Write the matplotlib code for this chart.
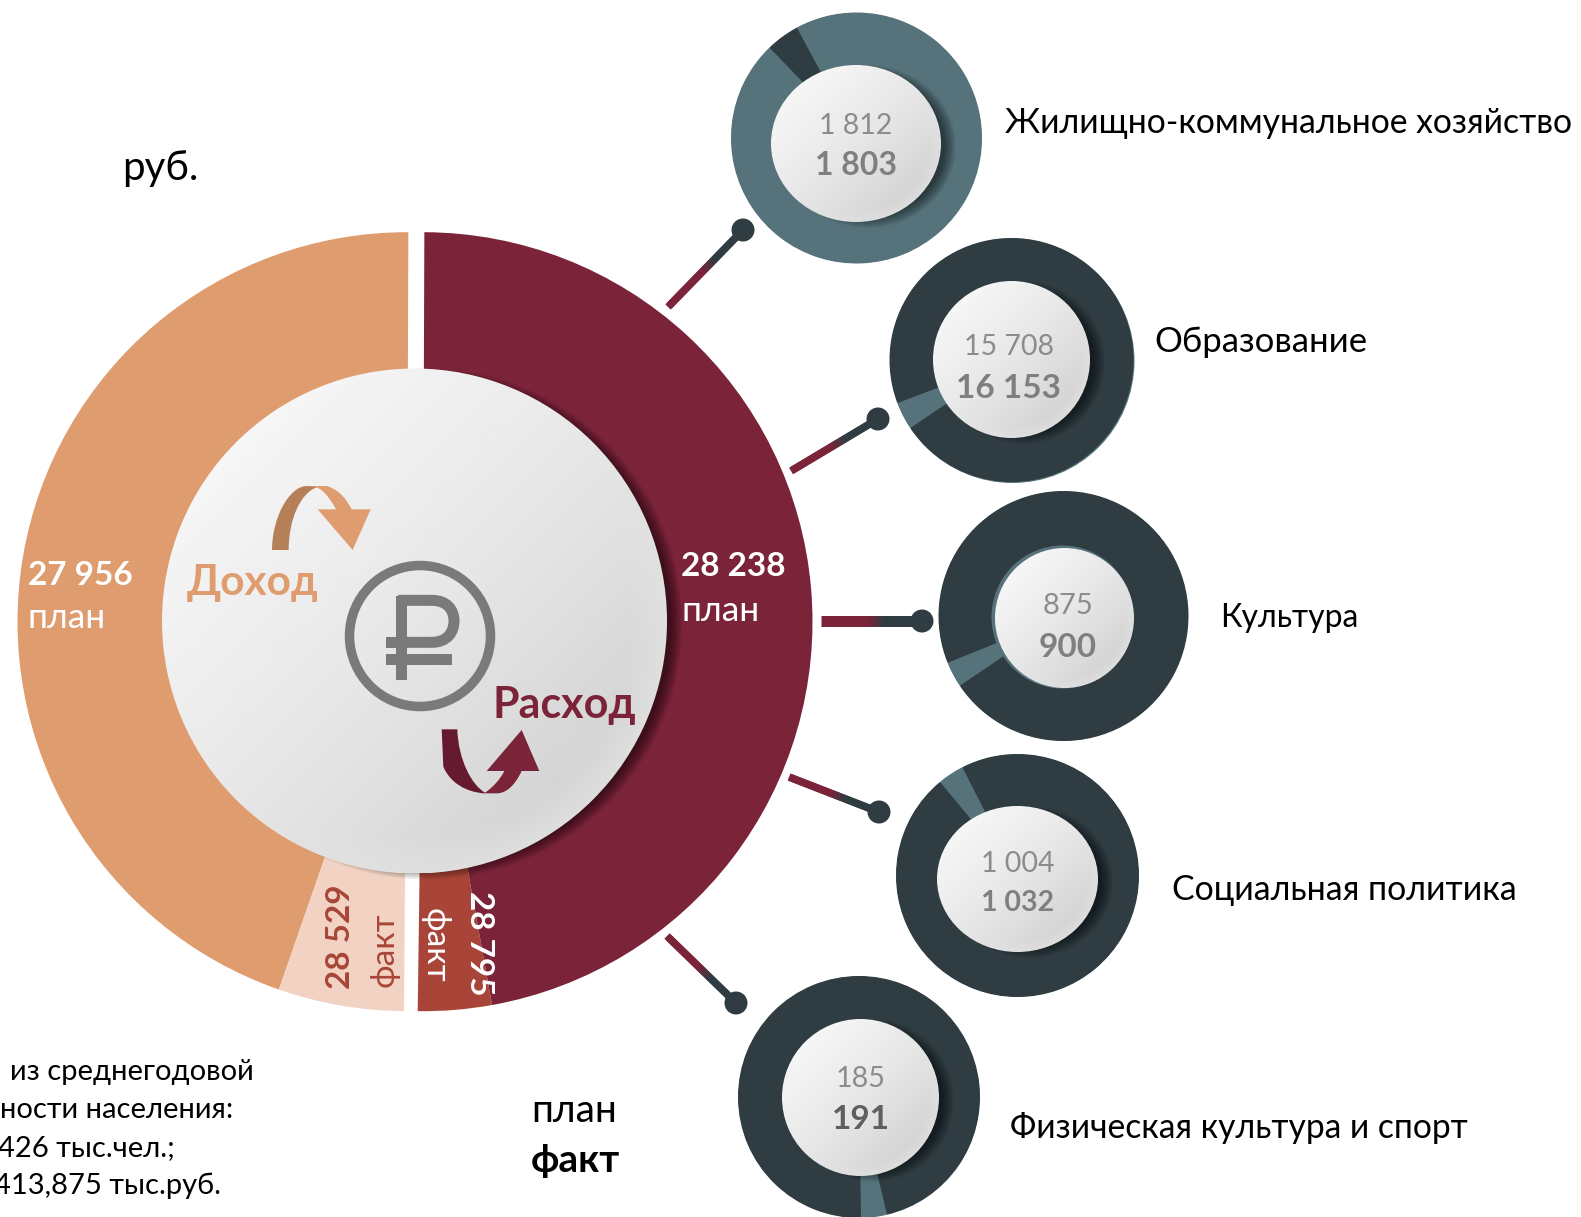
import matplotlib
matplotlib.use("Agg")
import matplotlib.pyplot as plt
import numpy as np
from matplotlib.collections import LineCollection
from matplotlib.colors import to_rgb
from matplotlib.patches import Ellipse, PathPatch, Rectangle
from matplotlib.path import Path

plt.rcParams["font.family"] = ["Lato", "Open Sans", "DejaVu Sans"]

# ── data ──────────────────────────────────────────────────────────────────────
income_plan = 27956
income_fact = 28529
expense_plan = 28238
expense_fact = 28795

# sweep of the slices in degrees
income_sweeps = [161.0, 18.76]
expense_sweeps = [11.0, 169.58]

categories = [
    "Жилищно-коммунальное хозяйство",
    "Образование",
    "Культура",
    "Социальная политика",
    "Физическая культура и спорт",
]
plan_values = [1812, 15708, 875, 1004, 185]
fact_values = [1803, 16153, 900, 1032, 191]
# highlighted slice: degrees before it, its sweep, rest of the ring
ring_sweeps = [
    [28.4, 15.6, 316.0],
    [110.7, 13.3, 236.0],
    [112.0, 12.0, 236.0],
    [27.0, 12.7, 320.3],
    [181.0, 12.5, 166.5],
]

note_lines = ["из среднегодовой", "ности населения:", "426 тыс.чел.;", "413,875 тыс.руб."]

# ── style ─────────────────────────────────────────────────────────────────────
COLORS = {
    "income": "#df9c6f",
    "income_fact": "#f2d3c3",
    "income_dark": "#b57f58",
    "expense": "#7a2339",
    "expense_fact": "#a84538",
    "expense_dark": "#651a2f",
    "ring": "#2f3d43",
    "ring_light": "#56737c",
    "icon": "#7a7a7a",
    "num_plan": "#8c8c8c",
    "num_fact": "#7f7f7f",
}
W, H = 1581, 1217
PX = 0.72  # points per pixel at dpi 100

# centre x, centre y, outer radius, inner centre x, y, inner rx, ry
DONUTS = [
    (856.5, 138, 125.5, 856, 143.5, 85, 78.5),
    (1011.5, 360, 122, 1011.5, 359.5, 78.5, 78.5),
    (1063.5, 616, 125, 1064.5, 618, 69.5, 70),
    (1017.5, 875.5, 121.5, 1017.5, 879, 80.5, 73),
    (859, 1097, 121, 860.5, 1097.5, 78.5, 78.5),
]
RING_COLORS = [
    ["ring_light", "ring", "ring_light"],
    ["ring", "ring_light", "ring"],
    ["ring", "ring_light", "ring"],
    ["ring", "ring_light", "ring"],
    ["ring", "ring_light", "ring"],
]
# start, end, line width in px
CONNECTORS = [
    ((668, 307), (743, 230), 7.5),
    ((791, 471), (878, 419), 7.5),
    ((821, 621), (922, 621), 11),
    ((789, 777), (879, 812), 7.5),
    ((667, 936), (736, 1003), 7.5),
]
# x centre, plan baseline, fact baseline, plan size, fact size
NUMBERS = [
    (856, 134, 175, 20.5, 23),
    (1009, 355, 398, 20.5, 24),
    (1068, 614, 657, 21, 24),
    (1018, 872, 911, 20.5, 20.5),
    (861, 1087, 1129, 20.7, 24),
]
# left x, baseline, size
LABELS = [(1005, 133, 24.3), (1154, 352, 25), (1220, 627, 23), (1172, 900, 24.4), (1010, 1138, 24.2)]

fig = plt.figure(figsize=(W / 100, H / 100), dpi=100)
ax = fig.add_axes([0, 0, 1, 1])


def fmt(v):
    return f"{v:,}".replace(",", " ")


def half_pie(sweeps, colors, center, radius, start):
    # y axis is inverted, so clockwise in data is counterclockwise on screen
    ax.pie([s / 360 for s in sweeps], colors=colors, center=center, radius=radius,
           startangle=start, counterclock=False, normalize=False, frame=True,
           wedgeprops={"linewidth": 0})


def disc(cx, cy, rx, ry, shadow=True, z=5):
    if shadow:
        for grow in np.linspace(3, -9, 14):
            ax.add_patch(Ellipse((cx + 12, cy + 3), 2 * (rx + grow), 2 * (ry + grow),
                                 fc="black", ec="none", alpha=0.045, zorder=z))
    n = 300
    u, v = np.meshgrid(np.linspace(-1, 1, n), np.linspace(-1, 1, n))
    t = (u + v) / 2.0
    shade = 0.905 - 0.085 * t - 0.03 * np.clip(t, 0, 1)
    rim = np.clip((np.hypot(u, v) - 0.86) / 0.14, 0, 1) * np.clip(t - 0.2, 0, 1)
    shade = shade + 0.09 * rim
    im = ax.imshow(shade, cmap="gray", vmin=0, vmax=1, aspect="auto",
                   extent=(cx - rx, cx + rx, cy + ry, cy - ry), zorder=z + 1,
                   interpolation="bilinear")
    clip = Ellipse((cx, cy), 2 * rx, 2 * ry, transform=ax.transData)
    im.set_clip_path(clip)


def connector(p0, p1, width):
    dark = np.array(to_rgb(COLORS["ring"]))
    red = np.array(to_rgb(COLORS["expense"]))
    ts = np.linspace(0, 1, 61)
    pts = np.array(p0) + ts[:, None] * (np.array(p1) - np.array(p0))
    # each piece runs over the next one so no seams show
    segs = np.stack([pts[:-2], pts[2:]], axis=1)
    mix = np.clip((ts[:-2] - 0.45) / 0.17, 0, 1)[:, None]
    lc = LineCollection(segs, colors=red * (1 - mix) + dark * mix,
                        linewidths=width * PX, capstyle="butt", zorder=3)
    ax.add_collection(lc)
    ax.add_patch(Ellipse(p1, 23, 23, fc=COLORS["ring"], ec="none", zorder=4))


def zoomed(points):
    # outlines were measured on the crop starting at (150, 450), scale 3
    return [(150 + x / 3, 450 + y / 3) for x, y in points]


def shape(points, codes, color, z=8):
    ax.add_patch(PathPatch(Path(zoomed(points), codes), fc=color, ec="none", zorder=z))


M, L, C, E = Path.MOVETO, Path.LINETO, Path.CURVE4, Path.CLOSEPOLY

# ── main ring ─────────────────────────────────────────────────────────────────
half_pie(income_sweeps, [COLORS["income"], COLORS["income_fact"]], (407, 621.7), 389.5, -89.8)
half_pie(expense_sweeps, [COLORS["expense_fact"], COLORS["expense"]], (423, 621.7), 389.5, -269.22)
disc(414.5, 621, 252.5, 252.5)

# arrows
shape([(366, 300), (366, 200), (420, 108), (470, 108), (500, 108), (500, 112),
       (450, 130), (416, 210), (416, 300), (366, 300)],
      [M, C, C, C, L, L, C, C, C, E], COLORS["income_dark"])
shape([(470, 108), (530, 108), (570, 120), (590, 150), (605, 178), (662, 178), (608, 300),
       (503, 178), (558, 178), (535, 135), (515, 118), (500, 112), (470, 108)],
      [M, L, C, C, C, L, L, L, L, C, C, C, E], COLORS["income"])
shape([(875, 838), (922, 838), (925, 930), (965, 1005), (1005, 1028), (1005, 1030), (985, 1030),
       (910, 1020), (880, 950), (875, 838)],
      [M, L, C, C, C, L, C, C, C, E], COLORS["expense_dark"])
shape([(1005, 1028), (1025, 1015), (1050, 990), (1063, 963), (1010, 963), (1115, 840), (1168, 963),
       (1115, 963), (1095, 1005), (1070, 1030), (1040, 1030), (1005, 1030), (1005, 1028)],
      [M, C, C, C, L, L, L, L, C, C, C, L, E], COLORS["expense"])

# ruble sign
ax.add_patch(Ellipse((420, 636), 141, 141, fc="none", ec=COLORS["icon"], lw=9.5 * PX, zorder=8))
for x0, y0, x1, y1 in [(737, 437, 770, 690), (708, 612, 905, 645), (708, 560, 760, 595)]:
    (ax0, ay0), (ax1, ay1) = zoomed([(x0, y0), (x1, y1)])
    ax.add_patch(Rectangle((ax0, ay0), ax1 - ax0, ay1 - ay0, fc=COLORS["icon"], ec="none", zorder=8))
bowl = Path(zoomed([(745, 451), (845, 451), (892, 451), (912, 480), (912, 513),
                    (912, 546), (892, 577), (845, 577), (745, 577)]),
            [M, L, C, C, C, C, C, C, L])
ax.add_patch(PathPatch(bowl, fc="none", ec=COLORS["icon"], lw=11 * PX, capstyle="butt", zorder=8))

# ── small rings ───────────────────────────────────────────────────────────────
for i, cat in enumerate(categories):
    cx, cy, r, ix, iy, rx, ry = DONUTS[i]
    # base disc hides the hairline where first and last slice meet
    ax.add_patch(Ellipse((cx, cy), 2 * r - 1, 2 * r - 1, fc=COLORS[RING_COLORS[i][0]], ec="none", zorder=0.5))
    if i == 1:
        # thin light edge low on the right of this ring
        ax.add_patch(Ellipse((cx + 1, cy + 1), 2 * r, 2 * r, fc=COLORS["ring_light"], ec="none", zorder=0.4))
    ax.pie([s / 360 for s in ring_sweeps[i]], colors=[COLORS[c] for c in RING_COLORS[i]],
           center=(cx, cy), radius=r, startangle=-90, counterclock=False, normalize=False,
           frame=True, wedgeprops={"linewidth": 0})
    if i == 2:
        ax.add_patch(Ellipse((ix - 2, iy - 1), 2 * rx + 3, 2 * ry + 3, fc=COLORS["ring_light"],
                             ec="none", zorder=4))
    disc(ix, iy, rx, ry, shadow=i != 2)
    connector(*CONNECTORS[i])

    x, y_plan, y_fact, s_plan, s_fact = NUMBERS[i]
    ax.text(x, y_plan, fmt(plan_values[i]), ha="center", va="baseline", fontsize=s_plan,
            color=COLORS["num_plan"], zorder=9)
    ax.text(x, y_fact, fmt(fact_values[i]), ha="center", va="baseline", fontsize=s_fact,
            fontweight="bold", color="#5f5f5f" if i == 4 else COLORS["num_fact"], zorder=9)
    lx, ly, ls = LABELS[i]
    ax.text(lx, ly, cat, ha="left", va="baseline", fontsize=ls, color="black", zorder=9)

# ── text ──────────────────────────────────────────────────────────────────────
ax.text(122, 180, "руб.", fontsize=29, va="baseline", color="black")
ax.text(28, 585, fmt(income_plan), fontsize=24, fontweight="bold", color="white", zorder=9)
ax.text(28, 628, "план", fontsize=25.5, color="white", zorder=9)
ax.text(681, 576, fmt(expense_plan), fontsize=24, fontweight="bold", color="white", zorder=9)
ax.text(681, 621, "план", fontsize=25.5, color="white", zorder=9)
ax.text(341, 937, fmt(income_fact), fontsize=24, fontweight="bold", rotation=90, ha="center",
        va="center", color=COLORS["expense_fact"], zorder=9)
ax.text(385, 950, "факт", fontsize=24, rotation=90, ha="center", va="center",
        color=COLORS["expense_fact"], zorder=9)
ax.text(480, 943, fmt(expense_fact), fontsize=24, fontweight="bold", rotation=-90, ha="center",
        va="center", color="white", zorder=9)
ax.text(435, 945, "факт", fontsize=24, rotation=-90, ha="center", va="center", color="white", zorder=9)
ax.text(187, 595, "Доход", fontsize=30.5, fontweight="bold", color=COLORS["income"], zorder=9)
ax.text(493, 718, "Расход", fontsize=31, fontweight="bold", color=COLORS["expense"], zorder=9)

for line, right, base in zip(note_lines, [254, 233, 175, 221], [1080, 1118, 1156, 1194]):
    ax.text(right, base, line, ha="right", va="baseline", fontsize=21, color="black")
ax.text(531, 1122, "план", fontsize=28, color="black")
ax.text(531, 1172, "факт", fontsize=28, fontweight="bold", color="black")

ax.set_aspect("auto")
ax.set_xlim(0, W)
ax.set_ylim(H, 0)
ax.axis("off")
fig.savefig("out.png", dpi=100, facecolor="white")
plt.close(fig)
